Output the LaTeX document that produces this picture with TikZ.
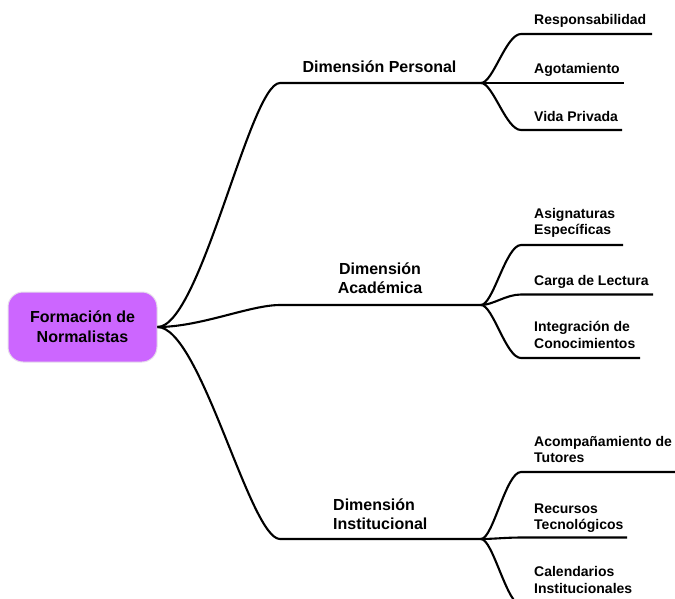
\documentclass[tikz,border=0pt]{standalone}
\usepackage{fontspec}
\setmainfont{Liberation Sans}
\definecolor{rootpurple}{HTML}{CC66FF}
\definecolor{rootedge}{HTML}{E6DDEB}
\begin{document}
\begin{tikzpicture}[x=1pt,y=-1pt,
  conn/.style={line width=2.1pt, black},
  mainlbl/.style={font=\bfseries\fontsize{16}{19}\selectfont, inner sep=0pt},
  sublbl/.style={font=\bfseries\fontsize{14}{16.5}\selectfont, inner sep=0pt, align=left, anchor=base west},
  rootbox/.style={rounded corners=15pt, fill=rootpurple, draw=rootedge, line width=1pt,
    minimum width=149pt, minimum height=70pt, inner sep=0pt, align=center,
    font=\bfseries\fontsize{16}{20}\selectfont}
]
\useasboundingbox (0,0) rectangle (675,598);
\clip (0,0) rectangle (675,598);

% root
\node[rootbox] (root) at (82.5,327) {Formación de\\Normalistas};

% first-level coordinates
\coordinate (d1s) at (280,83);  \coordinate (d1j) at (481,83);
\coordinate (d2s) at (280,305); \coordinate (d2j) at (481,305);
\coordinate (d3s) at (280,539); \coordinate (d3j) at (481,539);

\draw[conn] (root.east) .. controls +(43,0) and +(-30,0) .. (d1s) -- (d1j);
\draw[conn] (root.east) .. controls +(43,0) and +(-30,0) .. (d2s) -- (d2j);
\draw[conn] (root.east) .. controls +(43,0) and +(-30,0) .. (d3s) -- (d3j);

% first-level labels (base = baseline of last line)
\node[mainlbl, anchor=base] (dp) at (379.5,72.7) {Dimensión Personal};
\node[mainlbl, anchor=base, align=center] (da) at (380,293.3) {Dimensión\\Académica};
\node[mainlbl, anchor=base west, align=left] (di) at (333,529.3) {Dimensión\\Institucional};

% second-level coordinates
\coordinate (r1s) at (521,34);    \coordinate (r1e) at (652,34);
\coordinate (a1e) at (624,83);
\coordinate (v1s) at (521,130);   \coordinate (v1e) at (622,130);
\coordinate (as2s) at (521,245);  \coordinate (as2e) at (623,245);
\coordinate (ca2s) at (521,294.5);\coordinate (ca2e) at (653,294.5);
\coordinate (in2s) at (521,358);  \coordinate (in2e) at (640,358);
\coordinate (ac3s) at (521,472);  \coordinate (ac3e) at (675,472);
\coordinate (re3s) at (521,537.5);\coordinate (re3e) at (627,537.5);
\coordinate (cl3s) at (522,606);  \coordinate (cl3e) at (640,606);

\draw[conn] (d1j) .. controls +(12,0) and +(-15,0) .. (r1s) -- (r1e);
\draw[conn] (d1j) -- (a1e);
\draw[conn] (d1j) .. controls +(12,0) and +(-15,0) .. (v1s) -- (v1e);

\draw[conn] (d2j) .. controls +(12,0) and +(-15,0) .. (as2s) -- (as2e);
\draw[conn] (d2j) .. controls +(12,0) and +(-15,0) .. (ca2s) -- (ca2e);
\draw[conn] (d2j) .. controls +(12,0) and +(-15,0) .. (in2s) -- (in2e);

\draw[conn] (d3j) .. controls +(12,0) and +(-15,0) .. (ac3s) -- (ac3e);
\draw[conn] (d3j) .. controls +(12,0) and +(-15,0) .. (re3s) -- (re3e);
\draw[conn] (d3j) .. controls +(12,0) and +(-15,0) .. (cl3s) -- (cl3e);

% second-level labels (base = baseline of last line)
\node[sublbl] (resp) at (534,24.5) {Responsabilidad};
\node[sublbl] (agot) at (534,73) {Agotamiento};
\node[sublbl] (vida) at (534,121.5) {Vida Privada};
\node[sublbl] (asig) at (534,234.8) {Asignaturas\\Específicas};
\node[sublbl] (carga) at (534,285) {Carga de Lectura};
\node[sublbl] (integ) at (534,348.2) {Integración de\\Conocimientos};
\node[sublbl] (acomp) at (534,462.5) {Acompañamiento de\\Tutores};
\node[sublbl] (recur) at (534,529.8) {Recursos\\Tecnológicos};
\node[sublbl] (calen) at (534,593.2) {Calendarios\\Institucionales};
\end{tikzpicture}
\end{document}
